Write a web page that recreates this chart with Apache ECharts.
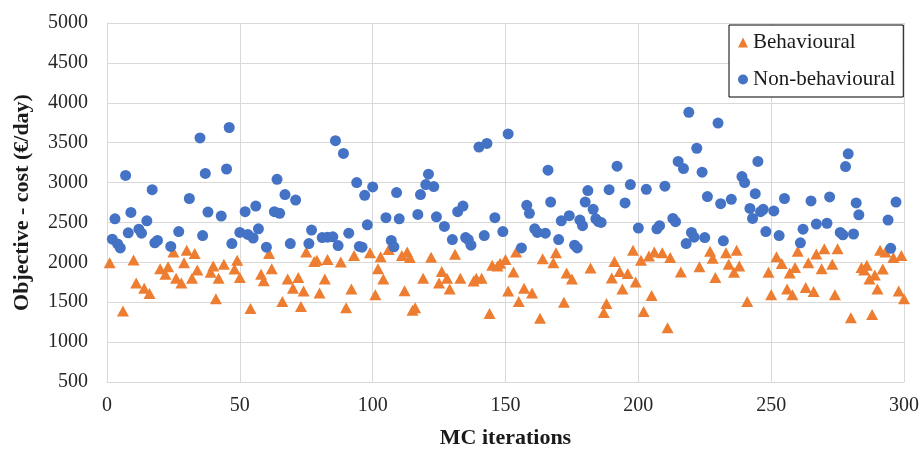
<!DOCTYPE html>
<html>
<head>
<meta charset="utf-8">
<script src="https://cdn.jsdelivr.net/npm/echarts@6/dist/echarts.min.js"></script>
<style>
  html, body { margin: 0; padding: 0; background: #fff; }
  #chart { width: 922px; height: 454px; }
</style>
</head>
<body>
<div id="chart"></div>
<script>
// Objective cost per Monte Carlo iteration, [iteration, cost in €/day]
const behavioural = [
  [1, 1995], [6, 1390], [10, 2030], [11, 1740], [14, 1675], [16, 1610], [20, 1920], [22, 1850],
  [23, 1945], [25, 2130], [26, 1800], [28, 1740], [29, 1995], [30, 2150], [32, 1800], [33, 2110],
  [34, 1905], [39, 1875], [40, 1955], [41, 1545], [42, 1800], [44, 1975], [48, 1915], [49, 2025],
  [50, 1810], [54, 1420], [58, 1850], [59, 1770], [61, 2110], [62, 1920], [66, 1510], [68, 1790],
  [70, 1675], [72, 1810], [73, 1445], [74, 1640], [75, 2130], [78, 2010], [79, 2025], [80, 1615],
  [82, 1790], [83, 2035], [88, 2005], [90, 1430], [92, 1665], [93, 2085], [99, 2120], [101, 1595],
  [102, 1920], [103, 2070], [104, 1790], [106, 2160], [111, 2085], [112, 1645], [113, 2130], [114, 2060],
  [115, 1400], [116, 1430], [119, 1800], [122, 2065], [125, 1740], [126, 1885], [128, 1800], [129, 1665],
  [131, 2100], [133, 1800], [138, 1765], [139, 1800], [141, 1800], [144, 1360], [145, 1965], [147, 1955],
  [148, 1990], [150, 2035], [151, 1640], [153, 1880], [154, 2130], [155, 1510], [157, 1675], [160, 1615],
  [163, 1300], [164, 2045], [168, 1995], [169, 2120], [172, 1500], [173, 1865], [175, 1790], [182, 1930],
  [187, 1370], [188, 1485], [190, 1805], [191, 2010], [193, 1885], [194, 1665], [196, 1860], [198, 2150],
  [199, 1755], [201, 2025], [202, 1385], [204, 2080], [205, 1585], [206, 2130], [209, 2120], [211, 1180],
  [212, 2060], [216, 1880], [223, 1945], [227, 2140], [228, 2050], [229, 1810], [233, 2120], [234, 1975],
  [236, 1875], [237, 2150], [238, 1955], [241, 1510], [249, 1875], [250, 1595], [252, 2070], [254, 1985],
  [256, 1665], [257, 1865], [258, 1595], [259, 1935], [260, 2140], [263, 1685], [264, 1995], [266, 1635],
  [267, 2105], [269, 1920], [270, 2170], [273, 1975], [274, 1595], [275, 2170], [280, 1305], [284, 1935],
  [285, 1905], [286, 1965], [287, 1790], [288, 1345], [289, 1840], [290, 1665], [291, 2150], [292, 1915],
  [293, 2130], [296, 2060], [298, 1640], [299, 2085], [300, 1545]
];

const nonBehavioural = [
  [2, 2290], [3, 2545], [4, 2230], [5, 2180], [7, 3090], [8, 2370], [9, 2625], [12, 2415],
  [13, 2365], [15, 2520], [17, 2910], [18, 2245], [19, 2275], [24, 2200], [27, 2385], [31, 2800],
  [35, 3560], [36, 2335], [37, 3115], [38, 2630], [43, 2580], [45, 3170], [46, 3690], [47, 2235],
  [50, 2375], [52, 2635], [53, 2350], [55, 2305], [56, 2705], [57, 2420], [60, 2190], [63, 2635],
  [64, 3040], [65, 2615], [67, 2850], [69, 2235], [71, 2780], [76, 2235], [77, 2405], [81, 2310],
  [83, 2315], [85, 2320], [86, 3525], [87, 2210], [89, 3365], [91, 2365], [94, 3000], [95, 2200],
  [96, 2190], [97, 2840], [98, 2470], [100, 2945], [105, 2560], [107, 2275], [108, 2195], [109, 2875],
  [110, 2545], [117, 2600], [118, 2850], [120, 2975], [121, 3105], [123, 2950], [124, 2570], [127, 2450],
  [130, 2285], [132, 2635], [134, 2705], [135, 2310], [136, 2285], [137, 2215], [140, 3445], [142, 2335],
  [143, 3490], [146, 2560], [149, 2385], [151, 3610], [156, 2180], [158, 2715], [159, 2615], [161, 2420],
  [162, 2375], [165, 2365], [166, 3155], [167, 2755], [170, 2285], [171, 2520], [174, 2585], [176, 2215],
  [177, 2180], [178, 2530], [179, 2460], [180, 2755], [181, 2900], [183, 2665], [184, 2545], [185, 2510],
  [186, 2500], [189, 2910], [192, 3205], [195, 2745], [197, 2975], [200, 2430], [203, 2915], [207, 2420],
  [208, 2460], [210, 2955], [213, 2550], [214, 2510], [215, 3265], [217, 3175], [218, 2235], [219, 3880],
  [220, 2375], [221, 2315], [222, 3430], [224, 3130], [225, 2310], [226, 2825], [230, 3745], [231, 2735],
  [232, 2270], [235, 2790], [239, 3075], [240, 3000], [242, 2675], [243, 2550], [244, 2860], [245, 3265],
  [246, 2635], [247, 2665], [248, 2385], [251, 2645], [253, 2335], [255, 2800], [261, 2245], [262, 2415],
  [265, 2770], [267, 2480], [271, 2490], [272, 2820], [276, 2375], [277, 2345], [278, 3200], [279, 3360],
  [281, 2355], [282, 2745], [283, 2595], [294, 2530], [295, 2175], [297, 2755]
];

const seriesNames = ['Behavioural', 'Non-behavioural'];
const xTitle = 'MC iterations';
const yTitle = 'Objective - cost (€/day)';

const FONT = '"Liberation Serif", "Times New Roman", serif';
const GRID = '#d9d9d9';

const chart = echarts.init(document.getElementById('chart'), null, { renderer: 'canvas' });

chart.setOption({
  animation: false,
  backgroundColor: '#ffffff',
  textStyle: { fontFamily: FONT },
  grid: { left: 107, right: 18, top: 23, bottom: 66, containLabel: false },
  legend: {
    orient: 'vertical',
    left: 729,
    top: 25,
    padding: [7, 8, 7, 9],
    itemGap: 16,
    itemWidth: 10,
    itemHeight: 10,
    backgroundColor: '#ffffff',
    borderColor: '#000000',
    borderWidth: 1,
    borderRadius: 0,
    textStyle: { fontFamily: FONT, fontSize: 21, color: '#1a1a1a' },
    data: [
      { name: seriesNames[0], icon: 'triangle' },
      { name: seriesNames[1], icon: 'circle' }
    ]
  },
  xAxis: {
    type: 'value',
    min: 0,
    max: 300,
    interval: 50,
    name: xTitle,
    nameLocation: 'middle',
    nameGap: 45,
    nameTextStyle: { fontFamily: FONT, fontSize: 22, fontWeight: 'bold', color: '#1a1a1a' },
    axisLine: { show: true, lineStyle: { color: GRID, width: 1 } },
    axisTick: { show: false },
    axisLabel: { margin: 14, fontFamily: FONT, fontSize: 20, color: '#262626', formatter: v => String(v) },
    splitLine: { show: true, lineStyle: { color: GRID, width: 1 } }
  },
  yAxis: {
    type: 'value',
    min: 500,
    max: 5000,
    interval: 500,
    name: yTitle,
    nameLocation: 'middle',
    nameGap: 74,
    nameTextStyle: { fontFamily: FONT, fontSize: 22, fontWeight: 'bold', color: '#1a1a1a' },
    axisLine: { show: true, lineStyle: { color: GRID, width: 1 } },
    axisTick: { show: false },
    axisLabel: { margin: 19, fontFamily: FONT, fontSize: 20, color: '#262626', formatter: v => String(v) },
    splitLine: { show: true, lineStyle: { color: GRID, width: 1 } }
  },
  series: [
    {
      name: seriesNames[0],
      type: 'scatter',
      symbol: 'triangle',
      symbolSize: [12, 11],
      itemStyle: { color: '#ED7D31', opacity: 1 },
      data: behavioural,
      z: 2
    },
    {
      name: seriesNames[1],
      type: 'scatter',
      symbol: 'circle',
      symbolSize: 11,
      itemStyle: { color: '#4472C4', opacity: 1 },
      data: nonBehavioural,
      z: 3
    }
  ]
});
</script>
</body>
</html>
